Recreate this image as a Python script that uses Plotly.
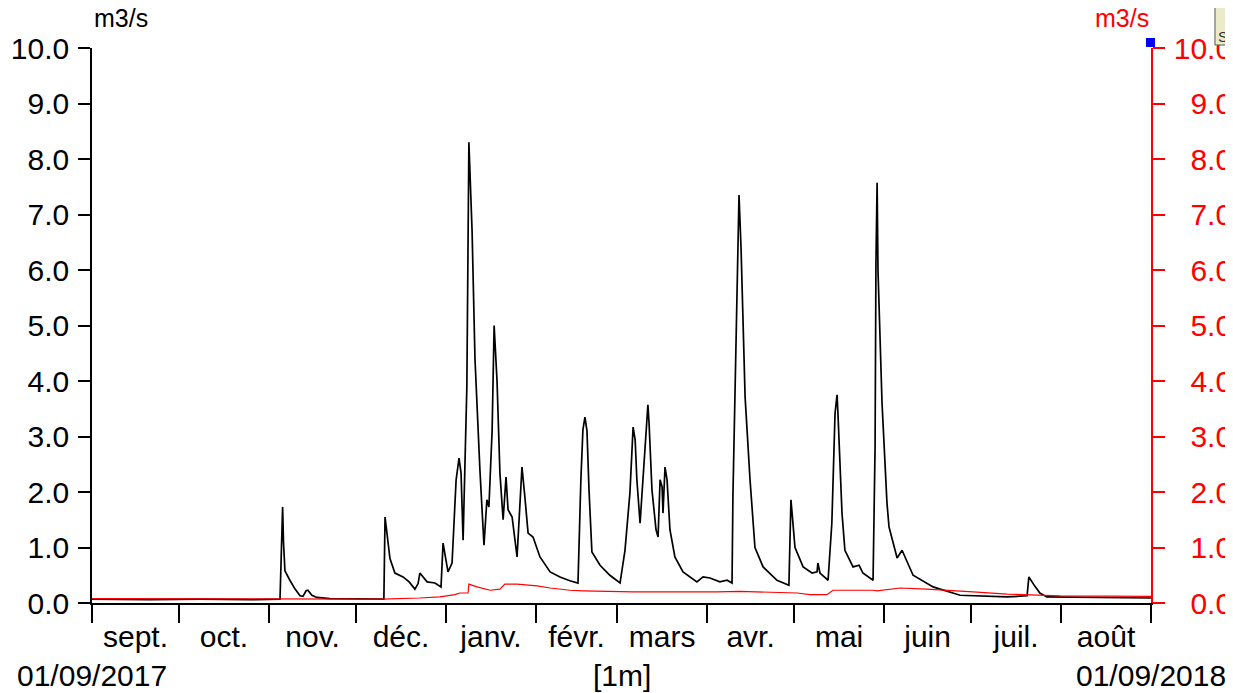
import pandas as pd
import plotly.graph_objects as go

# ---- data (day offsets from 2017-09-01, values in m3/s) ----
START = pd.Timestamp("2017-09-01")
black_days = [0, 20, 37.2, 54.5, 64.8, 65.3, 65.7, 66.0, 66.5, 68.2, 70.0, 71.7, 72.7, 73.8, 74.4, 75.8,
              77.5, 82.0, 92.4, 100.6, 101.0, 102.0, 102.7, 104.4, 107.2, 109.3, 111.3, 112.4, 113.0,
              115.5, 118.2, 120.3, 121.0, 122.7, 124.1, 125.5, 126.5, 127.2, 127.9, 129.2, 129.9, 131.0,
              132.0, 133.7, 135.1, 136.1, 136.8, 137.9, 138.6, 139.6, 140.6, 141.7, 142.7, 143.4, 144.8,
              146.5, 148.2, 149.2, 150.3, 152.0, 154.4, 157.9, 161.3, 164.7, 167.5, 168.5, 169.2, 169.9,
              170.6, 171.3, 172.3, 175.1, 178.5, 182.0, 183.7, 185.4, 186.5, 187.2, 187.8, 188.9, 189.9,
              190.9, 191.6, 192.0, 193.0, 194.4, 195.1, 195.8, 196.5, 196.8, 197.5, 198.2, 199.2, 200.9,
              203.7, 208.5, 210.6, 213.0, 216.4, 218.9, 220.6, 220.9, 222.3, 223.0, 223.7, 224.4, 225.1,
              226.8, 228.5, 231.3, 236.1, 240.2, 240.9, 242.3, 245.1, 248.2, 249.9, 250.2, 250.9, 253.7,
              255.0, 256.1, 256.8, 257.1, 258.5, 259.5, 262.3, 264.4, 265.7, 269.2, 269.9, 270.2, 270.6,
              270.9, 272.3, 274.0, 274.7, 277.5, 279.2, 283.0, 289.9, 299.2, 315.4, 322.3, 322.9, 325.0,
              326.7, 329.1, 347.4, 365.0]
black_vals = [0.07, 0.06, 0.07, 0.06, 0.07, 1.2, 1.73, 1.1, 0.58, 0.41, 0.25, 0.13, 0.12, 0.22, 0.23, 0.14,
              0.10, 0.08, 0.07, 0.07, 1.55, 1.1, 0.8, 0.54, 0.47, 0.38, 0.25, 0.35, 0.54,
              0.38, 0.36, 0.29, 1.08, 0.56, 0.72, 2.22, 2.61, 2.34, 1.13, 3.9, 8.3, 6.7,
              4.4, 2.4, 1.04, 1.86, 1.73, 3.1, 5.0, 4.0, 2.34, 1.5, 2.27, 1.68, 1.55,
              0.83, 2.45, 1.91, 1.26, 1.19, 0.83, 0.56, 0.47, 0.40, 0.36, 2.22, 3.12, 3.35,
              3.1, 2.04, 0.92, 0.68, 0.50, 0.36, 0.95, 1.98, 3.17, 2.94, 2.22, 1.44, 2.22,
              3.17, 3.57, 3.24, 2.04, 1.32, 1.19, 2.22, 2.09, 1.62, 2.45, 2.22, 1.32, 0.83,
              0.56, 0.38, 0.47, 0.45, 0.38, 0.41, 0.36, 1.91, 5.28, 7.35, 6.4, 4.92, 3.71,
              2.22, 1.0, 0.65, 0.41, 0.32, 1.86, 1.0, 0.65, 0.54, 0.56, 0.72, 0.54, 0.41,
              1.44, 3.42, 3.75, 3.42, 1.62, 0.95, 0.65, 0.68, 0.54, 0.41, 2.81, 6.12, 7.57,
              6.0, 3.6, 1.8, 1.37, 0.81, 0.95, 0.50, 0.29, 0.14, 0.11, 0.13, 0.47, 0.30,
              0.18, 0.11, 0.10, 0.09]

red_days = [0, 60, 100, 113, 119.9, 125.1, 126.8, 129.6, 129.9, 132.7, 137.2, 140.6, 142.3, 146.5,
            153.4, 157.9, 164.7, 169.2, 186.5, 215.4, 223.3, 243.0, 247.5, 253.3, 255.4, 269.2, 270.6,
            278.5, 287.8, 303.6, 315.4, 333.6, 365.0]
red_vals = [0.08, 0.07, 0.07, 0.09, 0.11, 0.15, 0.18, 0.18, 0.34, 0.29, 0.23, 0.25, 0.34, 0.34,
            0.31, 0.27, 0.23, 0.22, 0.20, 0.20, 0.21, 0.18, 0.15, 0.15, 0.23, 0.23, 0.22,
            0.27, 0.25, 0.20, 0.16, 0.13, 0.12]

month_labels = ["sept.", "oct.", "nov.", "déc.", "janv.", "févr.", "mars", "avr.", "mai", "juin", "juil.", "août"]
y_ticks = [0, 1, 2, 3, 4, 5, 6, 7, 8, 9, 10]
unit_label = "m3/s"
start_label = "01/09/2017"
end_label = "01/09/2018"
step_label = "[1m]"
tooltip_label = "So"

# ---- build ----
to_dates = lambda days: [START + pd.Timedelta(days=d) for d in days]
bounds = pd.date_range("2017-09-01", "2018-09-01", freq="MS")
mids = [bounds[i] + (bounds[i + 1] - bounds[i]) / 2 for i in range(12)]

FONT = "Arial, Liberation Sans, sans-serif"
FS = 30
fig = go.Figure()
fig.add_trace(go.Scatter(x=to_dates(red_days), y=red_vals, mode="lines", yaxis="y2",
                         line=dict(color="#ff0000", width=1.2), showlegend=False))
fig.add_trace(go.Scatter(x=to_dates(black_days), y=black_vals, mode="lines",
                         line=dict(color="#000000", width=1.7), showlegend=False))

fig.update_layout(
    width=1233, height=693,
    margin=dict(l=84, r=90, t=40, b=98),
    paper_bgcolor="white", plot_bgcolor="white",
    font=dict(family=FONT, size=FS, color="black"),
    xaxis=dict(
        type="date", range=[bounds[0], bounds[-1]], automargin=False,
        tickvals=mids, ticktext=month_labels, ticks="",
        showgrid=False, zeroline=False,
        showline=True, linecolor="black", linewidth=1.5,
        ticklabelstandoff=6,
        minor=dict(tickvals=list(bounds), ticks="outside", ticklen=18, tickcolor="black",
                   tickwidth=1.5, showgrid=False),
    ),
    yaxis=dict(
        range=[0, 10], tickvals=y_ticks, ticktext=[f"{v:.1f}" for v in y_ticks], automargin=False,
        ticks="outside", ticklen=12, tickwidth=1.5, tickcolor="black",
        showline=True, linecolor="black", linewidth=1.5,
        showgrid=False, zeroline=False, ticklabelstandoff=3,
    ),
    yaxis2=dict(
        range=[0, 10], overlaying="y", side="right", tickvals=y_ticks, automargin=False,
        ticktext=[(f"{v:.1f}" if v >= 10 else "\u2007" + f"{v:.1f}") for v in y_ticks],
        ticks="outside", ticklen=12, tickwidth=1.5, tickcolor="#ff0000",
        tickfont=dict(color="#ff0000"),
        showline=True, linecolor="#ff0000", linewidth=1.5,
        showgrid=False, zeroline=False, ticklabelstandoff=3,
    ),
    annotations=[
        dict(text=unit_label, xref="paper", yref="paper", x=0, y=1.054, xanchor="left",
             yanchor="middle", showarrow=False, font=dict(size=25, color="black")),
        dict(text=unit_label, xref="paper", yref="paper", x=1, y=1.054, xanchor="right",
             yanchor="middle", showarrow=False, font=dict(size=25, color="#ff0000")),
        dict(text=start_label, xref="paper", yref="paper", x=0, y=-0.1315, xanchor="center",
             yanchor="middle", showarrow=False, font=dict(size=FS)),
        dict(text=end_label, xref="paper", yref="paper", x=1, y=-0.1315, xanchor="center",
             yanchor="middle", showarrow=False, font=dict(size=FS)),
        dict(text=step_label, xref="paper", yref="paper", x=0.5, y=-0.1315, xanchor="center",
             yanchor="middle", showarrow=False, font=dict(size=FS)),
        dict(text=tooltip_label, xref="paper", yref="paper", x=1.061, y=1.02, xanchor="left",
             yanchor="middle", showarrow=False, font=dict(size=15, color="#333333")),
    ],
    shapes=[
        dict(type="rect", xref="paper", yref="paper", x0=0.9953, x1=1.0038, y0=1.0018, y1=1.018,
             fillcolor="#0000ff", line=dict(width=0), layer="above"),
        dict(type="rect", xref="paper", yref="paper", x0=1.0604, x1=1.09, y0=1.0054, y1=1.1,
             fillcolor="#ecebc9", line=dict(color="#555555", width=1), layer="above"),
    ],
)

fig.write_html("out.html")
